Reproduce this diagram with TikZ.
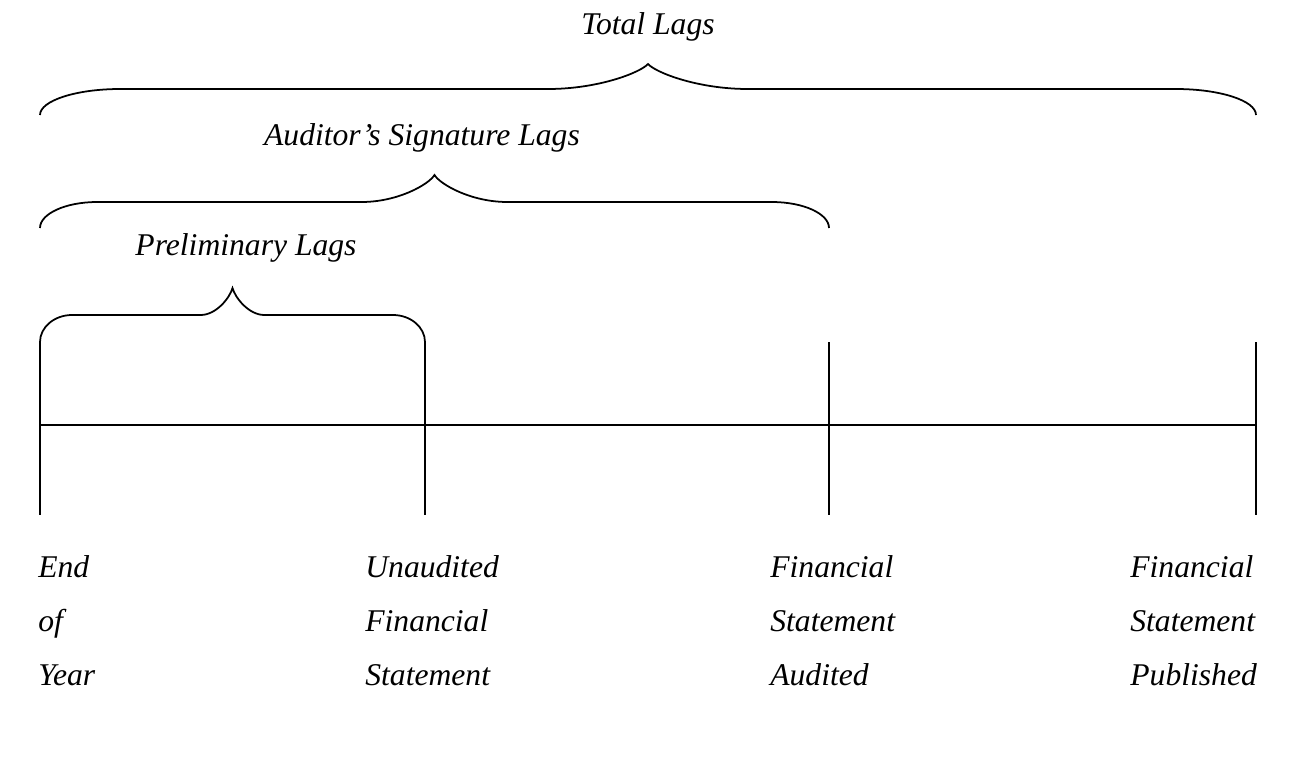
\documentclass[tikz,border=0pt]{standalone}
\usepackage{fontspec}
\setmainfont{Liberation Serif}
\usepackage{tikz}
\usetikzlibrary{positioning}

\newcommand{\lagbrace}[7]{%
  \pgfmathsetmacro{\brcmid}{(#1+#2)/2}
  \draw[brc] (#1,#3) .. controls (#1,{#4+0.45*(#3-#4)}) and ({#1+0.45*#6},#4) .. ({#1+#6},#4)
    -- ({\brcmid-#7},#4) .. controls ({\brcmid-0.5*#7},#4) and ({\brcmid-0.08*#7},{#5+0.35*(#4-#5)}) .. (\brcmid,#5)
    .. controls ({\brcmid+0.08*#7},{#5+0.35*(#4-#5)}) and ({\brcmid+0.5*#7},#4) .. ({\brcmid+#7},#4)
    -- ({#2-#6},#4) .. controls ({#2-0.45*#6},#4) and (#2,{#4+0.45*(#3-#4)}) .. (#2,#3);
}

\begin{document}
\begin{tikzpicture}[
  x=0.02cm, y=-0.02cm,
  line/.style={line width=1pt},
  brc/.style={line width=1pt},
  lag/.style={font=\fontsize{18}{22}\selectfont\itshape, inner sep=0pt},
  point/.style={font=\fontsize{18}{30.7}\selectfont\itshape, align=left, inner sep=0pt, anchor=west}
]
  \useasboundingbox (0,0) rectangle (1312,772);

  \coordinate (eoyT) at (40,342);
  \coordinate (eoyB) at (40,515);
  \coordinate (unaT) at (425,342);
  \coordinate (unaB) at (425,515);
  \coordinate (audT) at (829,342);
  \coordinate (audB) at (829,515);
  \coordinate (pubT) at (1256,342);
  \coordinate (pubB) at (1256,515);
  \coordinate (lineL) at (40,425);
  \coordinate (lineR) at (1256,425);

  \draw[line] (lineL) -- (lineR);
  \draw[line] (eoyT) -- (eoyB);
  \draw[line] (unaT) -- (unaB);
  \draw[line] (audT) -- (audB);
  \draw[line] (pubT) -- (pubB);

  \lagbrace{40}{425}{342}{315}{288}{32}{32}
  \lagbrace{40}{829}{228}{202}{175}{57}{73}
  \lagbrace{40}{1256}{115}{89}{64}{80}{100}

  \node[lag] (prelim) at (246,248) {Preliminary Lags};
  \node[lag] (sign) at (422,138) {Auditor’s Signature Lags};
  \node[lag] (total) at (648,27) {Total Lags};

  \node[point] (eoy) at (38,621) {End\\of\\Year};
  \node[point] (una) at (365,621) {Unaudited\\Financial\\Statement};
  \node[point] (aud) at (770,621) {Financial\\Statement\\Audited};
  \node[point] (pub) at (1130,621) {Financial\\Statement\\Published};
\end{tikzpicture}
\end{document}
